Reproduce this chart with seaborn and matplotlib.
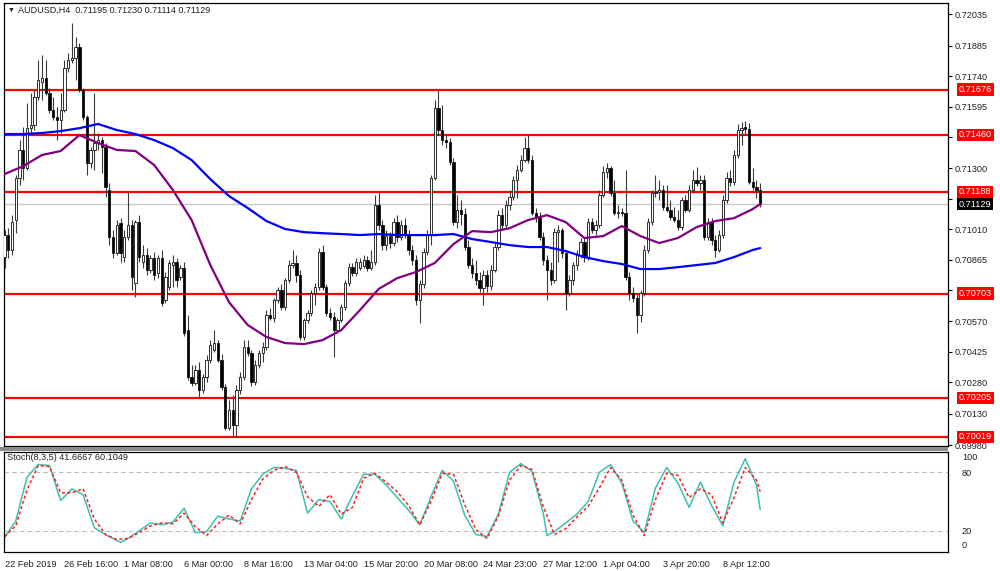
import numpy as np
import pandas as pd
import matplotlib
matplotlib.use("Agg")
import matplotlib.pyplot as plt
import matplotlib.transforms as mtransforms
from matplotlib.patches import Rectangle
import seaborn as sns

# ---- data (AUDUSD H4) ----
header = "AUDUSD,H4  0.71195 0.71230 0.71114 0.71129"
stoch_header = "Stoch(8,3,5) 41.6667 60.1049"

opens = [
    0.70877, 0.70982, 0.70911, 0.71054, 0.71254, 0.71388, 0.71302, 0.71492, 0.71507, 0.71640,
    0.71712, 0.71731, 0.71659, 0.71578, 0.71545, 0.71531, 0.71578, 0.71779, 0.71817, 0.71826,
    0.71879, 0.71674, 0.71545, 0.71326, 0.71388, 0.71421, 0.71435, 0.71402, 0.71197, 0.70972,
    0.70896, 0.71039, 0.70877, 0.70972, 0.71030, 0.70753, 0.71044, 0.70853, 0.70887, 0.70815,
    0.70872, 0.70801, 0.70872, 0.70672, 0.70734, 0.70839, 0.70853, 0.70782, 0.70825, 0.70529,
    0.70305, 0.70276, 0.70338, 0.70243, 0.70305, 0.70386, 0.70434, 0.70467, 0.70386, 0.70257,
    0.70061, 0.70147, 0.70076, 0.70243, 0.70305, 0.70448, 0.70419, 0.70281, 0.70362, 0.70419,
    0.70448, 0.70600, 0.70586, 0.70672, 0.70720, 0.70639, 0.70767, 0.70839, 0.70849, 0.70791,
    0.70496, 0.70577, 0.70610, 0.70705, 0.70734, 0.70901, 0.70734, 0.70610, 0.70591, 0.70529,
    0.70577, 0.70639, 0.70753, 0.70829, 0.70801, 0.70825, 0.70834, 0.70863, 0.70825, 0.70853,
    0.71125, 0.71030, 0.70934, 0.70977, 0.70944, 0.71044, 0.70972, 0.71030, 0.70982, 0.70911,
    0.70863, 0.70672, 0.70748, 0.70901, 0.70982, 0.71254, 0.71588, 0.71483, 0.71435, 0.71426,
    0.71330, 0.71044, 0.71101, 0.71082, 0.70925, 0.70839, 0.70801, 0.70767, 0.70729, 0.70791,
    0.70739, 0.70815, 0.70925, 0.71077, 0.71030, 0.71125, 0.71163, 0.71244, 0.71292, 0.71340,
    0.71397, 0.71340, 0.71087, 0.71068, 0.70972, 0.70863, 0.70815, 0.70767, 0.70996, 0.71006,
    0.70896, 0.70705, 0.70767, 0.70839, 0.70887, 0.70949, 0.70877, 0.71044, 0.71006, 0.71030,
    0.71173, 0.71283, 0.71302, 0.71182, 0.71087, 0.71092, 0.71087, 0.70782, 0.70705, 0.70682,
    0.70600, 0.70705, 0.70911, 0.71044, 0.71182, 0.71187, 0.71197, 0.71116, 0.71101, 0.71068,
    0.71054, 0.71020, 0.71149, 0.71101, 0.71197, 0.71244, 0.71230, 0.71244, 0.70972, 0.71044,
    0.70958, 0.70911, 0.70982, 0.71149, 0.71254, 0.71235, 0.71364, 0.71483, 0.71497, 0.71488,
    0.71235, 0.71211, 0.71195,
]
highs = [
    0.71006, 0.71015, 0.71077, 0.71268, 0.71435, 0.71497, 0.71612, 0.71659, 0.71674, 0.71817,
    0.71841, 0.71817, 0.71683, 0.71640, 0.71593, 0.71659, 0.71817, 0.71850, 0.71993, 0.71927,
    0.71898, 0.71683, 0.71554, 0.71402, 0.71659, 0.71469, 0.71450, 0.71421, 0.71230, 0.71006,
    0.71054, 0.71063, 0.71006, 0.71187, 0.71054, 0.71054, 0.71077, 0.70934, 0.70920, 0.70887,
    0.70901, 0.70887, 0.70911, 0.70806, 0.70863, 0.70887, 0.70872, 0.70839, 0.70853, 0.70600,
    0.70362, 0.70362, 0.70376, 0.70319, 0.70410, 0.70481, 0.70529, 0.70481, 0.70414, 0.70271,
    0.70195, 0.70219, 0.70267, 0.70329, 0.70481, 0.70481, 0.70434, 0.70386, 0.70434, 0.70472,
    0.70624, 0.70634, 0.70682, 0.70734, 0.70748, 0.70777, 0.70863, 0.70911, 0.70887, 0.70815,
    0.70586, 0.70624, 0.70720, 0.70753, 0.70920, 0.70934, 0.70748, 0.70634, 0.70615, 0.70586,
    0.70653, 0.70767, 0.70849, 0.70849, 0.70872, 0.70872, 0.70887, 0.70882, 0.70911, 0.71173,
    0.71187, 0.71054, 0.71006, 0.70996, 0.71063, 0.71077, 0.71054, 0.71063, 0.71006, 0.70934,
    0.70887, 0.70767, 0.70920, 0.71006, 0.71268, 0.71626, 0.71674, 0.71602, 0.71459, 0.71445,
    0.71349, 0.71173, 0.71149, 0.71111, 0.70958, 0.70872, 0.70863, 0.70806, 0.70815, 0.70815,
    0.70839, 0.70944, 0.71101, 0.71111, 0.71149, 0.71197, 0.71263, 0.71316, 0.71364, 0.71450,
    0.71459, 0.71364, 0.71111, 0.71092, 0.70996, 0.70887, 0.70853, 0.71015, 0.71030, 0.71015,
    0.70911, 0.70791, 0.70853, 0.70911, 0.70968, 0.70968, 0.71063, 0.71063, 0.71054, 0.71197,
    0.71311, 0.71326, 0.71311, 0.71244, 0.71125, 0.71111, 0.71292, 0.70806, 0.70734, 0.70705,
    0.70720, 0.70934, 0.71063, 0.71197, 0.71268, 0.71244, 0.71221, 0.71221, 0.71149, 0.71116,
    0.71101, 0.71163, 0.71173, 0.71221, 0.71292, 0.71306, 0.71268, 0.71268, 0.71063, 0.71063,
    0.70982, 0.71006, 0.71173, 0.71283, 0.71292, 0.71388, 0.71512, 0.71521, 0.71526, 0.71516,
    0.71302, 0.71244, 0.71230,
]
lows = [
    0.70825, 0.70872, 0.70887, 0.70992, 0.71221, 0.71244, 0.71292, 0.71469, 0.71483, 0.71626,
    0.71626, 0.71650, 0.71564, 0.71531, 0.71435, 0.71469, 0.71569, 0.71760, 0.71803, 0.71721,
    0.71664, 0.71531, 0.71268, 0.71302, 0.71292, 0.71388, 0.71278, 0.71163, 0.70934, 0.70872,
    0.70887, 0.70853, 0.70853, 0.70958, 0.70720, 0.70686, 0.70853, 0.70825, 0.70791, 0.70801,
    0.70767, 0.70777, 0.70643, 0.70658, 0.70720, 0.70734, 0.70734, 0.70767, 0.70500, 0.70290,
    0.70262, 0.70267, 0.70205, 0.70228, 0.70281, 0.70372, 0.70424, 0.70376, 0.70243, 0.70052,
    0.70052, 0.70019, 0.70019, 0.70224, 0.70290, 0.70405, 0.70262, 0.70267, 0.70348, 0.70376,
    0.70434, 0.70577, 0.70567, 0.70658, 0.70624, 0.70624, 0.70753, 0.70825, 0.70758, 0.70481,
    0.70481, 0.70562, 0.70596, 0.70648, 0.70720, 0.70720, 0.70596, 0.70577, 0.70400, 0.70515,
    0.70567, 0.70624, 0.70739, 0.70786, 0.70786, 0.70815, 0.70825, 0.70810, 0.70815, 0.70839,
    0.71006, 0.70911, 0.70911, 0.70920, 0.70930, 0.70949, 0.70958, 0.70968, 0.70887, 0.70839,
    0.70648, 0.70562, 0.70729, 0.70887, 0.70934, 0.71244, 0.71459, 0.71411, 0.71397, 0.71316,
    0.71030, 0.71015, 0.71030, 0.70911, 0.70825, 0.70777, 0.70744, 0.70710, 0.70648, 0.70710,
    0.70720, 0.70806, 0.70911, 0.71006, 0.71015, 0.71101, 0.71149, 0.71159, 0.71283, 0.71330,
    0.71326, 0.71077, 0.71044, 0.70958, 0.70839, 0.70672, 0.70744, 0.70753, 0.70853, 0.70872,
    0.70624, 0.70691, 0.70744, 0.70815, 0.70872, 0.70853, 0.70863, 0.70992, 0.70982, 0.71015,
    0.71163, 0.71254, 0.71168, 0.71077, 0.71063, 0.71073, 0.70767, 0.70672, 0.70662, 0.70515,
    0.70567, 0.70691, 0.70896, 0.71030, 0.71163, 0.71149, 0.71101, 0.71092, 0.71054, 0.71044,
    0.71006, 0.71006, 0.71092, 0.71092, 0.71182, 0.71216, 0.71197, 0.70958, 0.70958, 0.70934,
    0.70877, 0.70901, 0.70968, 0.71135, 0.71216, 0.71221, 0.71349, 0.71411, 0.71459, 0.71225,
    0.71197, 0.71159, 0.71114,
]
closes = [
    0.70982, 0.70911, 0.71044, 0.71254, 0.71388, 0.71302, 0.71492, 0.71507, 0.71640, 0.71721,
    0.71731, 0.71659, 0.71578, 0.71545, 0.71531, 0.71578, 0.71779, 0.71817, 0.71826, 0.71879,
    0.71674, 0.71545, 0.71326, 0.71388, 0.71421, 0.71435, 0.71402, 0.71211, 0.70972, 0.70896,
    0.71030, 0.70896, 0.70972, 0.71030, 0.70782, 0.71044, 0.70877, 0.70887, 0.70815, 0.70872,
    0.70791, 0.70872, 0.70658, 0.70782, 0.70849, 0.70853, 0.70767, 0.70825, 0.70515, 0.70305,
    0.70276, 0.70338, 0.70243, 0.70305, 0.70386, 0.70457, 0.70467, 0.70386, 0.70257, 0.70061,
    0.70147, 0.70076, 0.70243, 0.70305, 0.70448, 0.70419, 0.70281, 0.70362, 0.70419, 0.70448,
    0.70600, 0.70586, 0.70672, 0.70720, 0.70639, 0.70767, 0.70839, 0.70849, 0.70791, 0.70496,
    0.70577, 0.70610, 0.70705, 0.70734, 0.70901, 0.70734, 0.70610, 0.70591, 0.70529, 0.70577,
    0.70639, 0.70753, 0.70829, 0.70801, 0.70853, 0.70853, 0.70863, 0.70825, 0.70853, 0.71125,
    0.71030, 0.70934, 0.70977, 0.70944, 0.71044, 0.70972, 0.71030, 0.70982, 0.70911, 0.70863,
    0.70672, 0.70748, 0.70901, 0.70982, 0.71254, 0.71588, 0.71483, 0.71435, 0.71426, 0.71330,
    0.71044, 0.71101, 0.71082, 0.70925, 0.70839, 0.70801, 0.70767, 0.70729, 0.70791, 0.70739,
    0.70815, 0.70925, 0.71077, 0.71030, 0.71125, 0.71163, 0.71244, 0.71292, 0.71340, 0.71397,
    0.71340, 0.71087, 0.71068, 0.70972, 0.70863, 0.70815, 0.70767, 0.70996, 0.71006, 0.70896,
    0.70705, 0.70767, 0.70839, 0.70887, 0.70949, 0.70877, 0.71044, 0.71006, 0.71030, 0.71173,
    0.71283, 0.71302, 0.71182, 0.71087, 0.71092, 0.71087, 0.70782, 0.70705, 0.70682, 0.70600,
    0.70705, 0.70911, 0.71044, 0.71182, 0.71187, 0.71197, 0.71116, 0.71101, 0.71068, 0.71054,
    0.71020, 0.71149, 0.71101, 0.71197, 0.71244, 0.71230, 0.71244, 0.70972, 0.71044, 0.70958,
    0.70911, 0.70982, 0.71149, 0.71254, 0.71235, 0.71364, 0.71483, 0.71492, 0.71488, 0.71235,
    0.71211, 0.71197, 0.71129,
]

# moving averages sampled along the bars
ma_idx = list(range(0, 201, 5)) + [202]
ma_blue = [
    0.71464, 0.71464, 0.71469, 0.71478, 0.71492, 0.71512, 0.71483, 0.71464, 0.71435, 0.71397,
    0.71340, 0.71249, 0.71168, 0.71111, 0.71049, 0.71011, 0.70996, 0.70991, 0.70987, 0.70982,
    0.70987, 0.70982, 0.70982, 0.70982, 0.70987, 0.70963, 0.70949, 0.70934, 0.70925, 0.70925,
    0.70906, 0.70877, 0.70858, 0.70844, 0.70820, 0.70820, 0.70829, 0.70839, 0.70849, 0.70877,
    0.70911, 0.70920,
]
ma_purple = [
    0.71273, 0.71311, 0.71364, 0.71383, 0.71459, 0.71421, 0.71388, 0.71383, 0.71316, 0.71197,
    0.71054, 0.70839, 0.70662, 0.70553, 0.70496, 0.70467, 0.70462, 0.70481, 0.70529, 0.70624,
    0.70725, 0.70777, 0.70806, 0.70849, 0.70939, 0.71001, 0.70996, 0.71015, 0.71054, 0.71077,
    0.71044, 0.70968, 0.70977, 0.71025, 0.70977, 0.70944, 0.70968, 0.71020, 0.71049, 0.71063,
    0.71106, 0.71130,
]

level_prices = [0.71676, 0.71460, 0.71188, 0.70703, 0.70205, 0.70019]
bid_price = 0.71129
price_ticks = [0.72035, 0.71885, 0.71740, 0.71595, 0.71450, 0.71300, 0.71155, 0.71010,
               0.70865, 0.70720, 0.70570, 0.70425, 0.70280, 0.70130, 0.69980]
hidden_ticks = [0.71450, 0.71155, 0.70720]   # covered by the line labels

date_idx = [0, 16, 32, 48, 64, 80, 96, 112, 128, 144, 160, 176, 192]
date_labels = ["22 Feb 2019", "26 Feb 16:00", "1 Mar 08:00", "6 Mar 00:00", "8 Mar 16:00",
               "13 Mar 04:00", "15 Mar 20:00", "20 Mar 08:00", "24 Mar 23:00", "27 Mar 12:00",
               "1 Apr 04:00", "3 Apr 20:00", "8 Apr 12:00"]

# stochastic %K / %D
k_idx = [0, 3, 6, 9, 12, 15, 18, 21, 24, 27, 30, 31, 33, 36, 39, 42, 45, 48, 51, 54, 57, 60,
         63, 66, 69, 72, 75, 78, 81, 84, 87, 90, 93, 96, 99, 102, 105, 108, 111, 114, 117, 120,
         123, 126, 129, 132, 135, 138, 141, 144, 145, 147, 150, 153, 156, 159, 162, 165, 168,
         171, 174, 177, 180, 183, 186, 189, 192, 195, 198, 201, 202]
k_vals = [13, 30, 75, 88, 87, 51, 63, 57, 23, 16, 10, 8, 12, 20, 28, 26, 29, 43, 18, 19, 35, 32,
          30, 63, 78, 85, 84, 82, 38, 52, 50, 32, 56, 78, 78, 67, 54, 41, 26, 55, 82, 71,
          36, 16, 14, 37, 80, 89, 81, 38, 15, 19, 28, 37, 50, 80, 88, 69, 30,
          18, 64, 85, 69, 44, 70, 46, 25, 70, 94, 67, 41.6667]
d_idx = list(range(0, 202, 3)) + [202]
d_vals = [14, 25, 62, 87, 86, 59, 59, 63, 32, 16, 11, 12, 18, 25, 28, 27, 38, 24, 15, 27,
          36, 27, 52, 73, 82, 86, 80, 55, 45, 57, 37, 44, 74, 79, 70, 60, 46, 26, 50, 79,
          78, 47, 21, 12, 35, 72, 87, 83, 45, 16, 22, 34, 45, 64, 85, 72, 36, 15, 52, 79,
          77, 54, 63, 57, 28, 54, 85, 72, 60.1049]
stoch_levels = [0, 20, 80, 100]

# ---- figure ----
sns.set_style("white")
plt.rcParams["font.family"] = ["Liberation Sans", "DejaVu Sans"]

W, H = 1000, 571
fig = plt.figure(figsize=(10, 5.71), dpi=100)
ax = fig.add_axes([4 / W, 1 - 446 / H, 944 / W, 443 / H])
ax2 = fig.add_axes([4 / W, 1 - 552 / H, 944 / W, 100 / H])

bars = pd.DataFrame({"open": opens, "high": highs, "low": lows, "close": closes})
bars["idx"] = np.arange(len(bars))
bull = bars["close"] >= bars["open"]
body_lo = bars[["open", "close"]].min(axis=1)
body_h = (bars["close"] - bars["open"]).abs().clip(lower=0.000012)

ax.vlines(bars["idx"], bars["low"], bars["high"], color="#3a3a3a", lw=0.8, zorder=3)
ax.bar(bars["idx"], body_h, bottom=body_lo, width=0.62,
       color=np.where(bull, "white", "black"), edgecolor="#111111", linewidth=0.6, zorder=4)

for p in level_prices:
    ax.axhline(p, color="#ff0000", lw=1.6, zorder=2)
ax.axhline(bid_price, color="#c8c8c8", lw=1.0, zorder=1)

sns.lineplot(x=ma_idx, y=ma_blue, ax=ax, color="#0000ff", lw=1.6, zorder=5)
sns.lineplot(x=ma_idx, y=ma_purple, ax=ax, color="#800080", lw=1.6, zorder=5)

xmin, xmax = -0.15, 252.2
ax.set_xlim(xmin, xmax)
ax.set_ylim(0.69976, 0.72089)
ax.set_xticks([])
ax.yaxis.tick_right()
ax.set_yticks(price_ticks)
ax.set_yticklabels(["" if t in hidden_ticks else f"{t:.5f}" for t in price_ticks])
ax.tick_params(axis="y", direction="out", length=3, width=0.8, pad=2, labelsize=6.6,
               colors="black", labelcolor="#202020")
for s in ax.spines.values():
    s.set_color("black")
    s.set_linewidth(0.9)

trans = mtransforms.blended_transform_factory(ax.transAxes, ax.transData)
for p in level_prices:
    ax.text(1.0115, p, f"{p:.5f}", transform=trans, ha="left", va="center", fontsize=6.6,
            color="white", zorder=20, clip_on=False,
            bbox=dict(boxstyle="square,pad=0.18", fc="#ff0000", ec="none"))
ax.text(1.0115, bid_price, f"{bid_price:.5f}", transform=trans, ha="left", va="center",
        fontsize=6.6, color="white", zorder=20, clip_on=False,
        bbox=dict(boxstyle="square,pad=0.18", fc="black", ec="none"))

# stochastic panel
ax2.axhline(80, color="#bdbdbd", lw=0.8, ls=(0, (4, 3)))
ax2.axhline(20, color="#bdbdbd", lw=0.8, ls=(0, (4, 3)))
sns.lineplot(x=k_idx, y=k_vals, ax=ax2, color="#3cc0b0", lw=1.1)
sns.lineplot(x=d_idx, y=d_vals, ax=ax2, color="#ff2020", lw=1.1, linestyle=(0, (2, 1.6)))
ax2.set_xlim(xmin, xmax)
ax2.set_ylim(-1.9, 100.9)
ax2.yaxis.tick_right()
ax2.set_yticks(stoch_levels)
ax2.set_yticklabels([str(v) for v in stoch_levels])
ax2.tick_params(axis="y", length=0, pad=10, labelsize=6.6, labelcolor="#202020")
ylabs = ax2.get_yticklabels()
ylabs[0].set_verticalalignment("bottom")
ylabs[-1].set_verticalalignment("top")
ax2.set_xticks(date_idx)
ax2.set_xticklabels(date_labels)
ax2.tick_params(axis="x", direction="out", length=4, width=0.8, pad=2, labelsize=6.6,
                labelcolor="#202020")
for lab in ax2.get_xticklabels():
    lab.set_horizontalalignment("left")
for s in ax2.spines.values():
    s.set_color("black")
    s.set_linewidth(0.9)

# separator between panels
fig.patches.append(Rectangle((0, 1 - 451 / H), 948 / W, 4 / H, transform=fig.transFigure,
                             facecolor="#8c8c8c", edgecolor="none", zorder=0))

fig.text(8 / W, 1 - 10 / H, "\u25bc", fontsize=5, va="center", ha="left", color="#202020")
fig.text(18 / W, 1 - 10 / H, header, fontsize=6.5, va="center", ha="left", color="#202020")
fig.text(7 / W, 1 - 458 / H, stoch_header, fontsize=6.6, va="center", ha="left", color="#202020")

fig.savefig("out.png", dpi=100, facecolor="white")
